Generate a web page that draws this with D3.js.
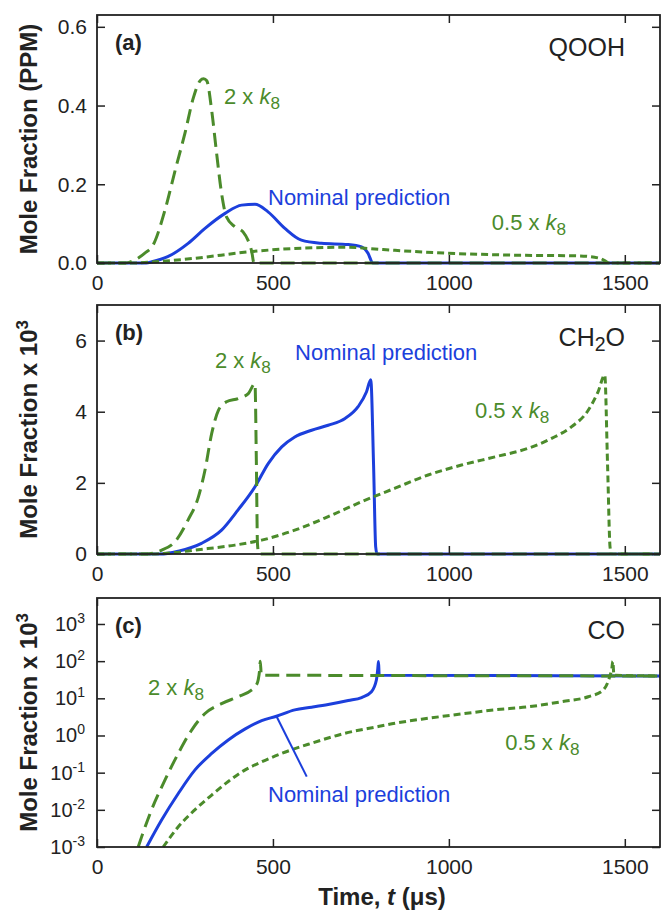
<!DOCTYPE html>
<html>
<head>
<meta charset="utf-8">
<script src="https://cdn.jsdelivr.net/npm/d3@7"></script>
<style>
body { margin: 0; background: #fff; }
text { font-family: "Liberation Sans", Arial, sans-serif; }
</style>
</head>
<body>
<svg id="chart"></svg>
<script>
//tick values
var timeTicks = [0, 500, 1000, 1500];
var qoohTicks = [0, 0.2, 0.4, 0.6];
var ch2oTicks = [0, 2, 4, 6];
var coTicks = [1e-3, 1e-2, 1e-1, 1, 10, 100, 1000];

//(a) QOOH mole fraction, PPM  [time us, value]
var qoohNominal = [[0,0],[140,0],[156,0.003],[201,0.016],[259,0.05],[307,0.088],[364,0.126],[411,0.147],
    [449,0.149],[486,0.13],[534,0.088],[581,0.058],[638,0.05],[713,0.047],[752,0.041],[770,0.025],[784,0],[1600,0]];
var qoohDouble = [[0,0],[80,0],[108,0.008],[136,0.025],[159,0.045],[193,0.134],[222,0.235],[250,0.33],[274,0.42],
    [293,0.463],[303,0.468],[312,0.463],[326,0.387],[340,0.278],[354,0.177],[368,0.117],[392,0.092],[415,0.079],
    [429,0.058],[440,0.028],[446,0],[1600,0]];
var qoohHalf = [[0,0],[100,0],[180,0.004],[278,0.012],[439,0.029],[562,0.037],[705,0.040],[813,0.034],[993,0.025],
    [1182,0.02],[1372,0.018],[1429,0.012],[1448,0.003],[1455,0],[1600,0]];

//(b) CH2O mole fraction x 10^3
var ch2oNominal = [[0,0],[180,0],[231,0.08],[297,0.3],[354,0.67],[401,1.24],[449,1.89],[487,2.55],[525,3.01],
    [562,3.29],[610,3.48],[657,3.62],[705,3.81],[742,4.14],[766,4.56],[778,4.9],[786,2.5],[792,0.2],[796,0],[1600,0]];
var ch2oDouble = [[0,0],[140,0],[184,0.11],[222,0.35],[259,0.96],[288,1.6],[307,2.36],[326,3.39],[345,4.04],
    [368,4.28],[401,4.37],[430,4.51],[449,4.79],[453,2.5],[456,0.3],[460,0],[1600,0]];
var ch2oHalf = [[0,0],[150,0],[220,0.04],[278,0.11],[392,0.25],[468,0.39],[562,0.67],[657,1.05],[752,1.47],
    [847,1.85],[941,2.22],[1036,2.5],[1131,2.73],[1225,2.97],[1292,3.25],[1349,3.58],[1396,4.04],[1424,4.56],
    [1443,5.03],[1451,2.5],[1458,0.2],[1462,0],[1600,0]];

//(c) CO mole fraction x 10^3 (log)
var coNominal = [[141,1e-3],[184,5.4e-3],[231,2.75e-2],[278,0.117],[326,0.33],[373,0.76],[420,1.48],[468,2.5],
    [510,3.3],[562,4.9],[610,5.75],[657,6.8],[714,8.7],[752,10.5],[780,15],[794,31],[798,63],[800,98],[802,42],[1600,40]];
var coDouble = [[117,1e-3],[127,1.9e-3],[155,1e-2],[193,6.3e-2],[231,0.33],[269,1.4],[307,3.9],[354,7.2],[401,11],
    [439,16.6],[452,22],[458,31],[462,56],[464,100],[467,42],[1600,40]];
var coHalf = [[188,1e-3],[231,3.5e-3],[278,1e-2],[326,2.5e-2],[373,5.8e-2],[420,0.117],[468,0.195],[525,0.33],
    [610,0.62],[705,1.15],[799,1.74],[847,2.14],[941,2.9],[1036,3.8],[1131,4.9],[1225,5.9],[1320,8.1],[1396,11],
    [1438,16.6],[1457,38],[1463,63],[1466,98],[1469,42],[1600,40]];

var green = '#4b8b2b', blue = '#1c3fdc', ink = '#222';

var svg = d3.select('#chart')
    .attr('width', 664)
    .attr('height', 912);

var x = d3.scaleLinear().domain([0, 1600]).range([97, 660]);

//label made of text pieces (italic / subscript / superscript)
function richText(sel, parts, size) {
    parts.forEach(function(p) {
        var ts = sel.append('tspan').text(p.t);
        if (p.italic) ts.attr('font-style', 'italic');
        if (p.sub) ts.attr('font-size', size * 0.78 + 'px').attr('dy', 5);
        if (p.sup) ts.attr('font-size', size * 0.7 + 'px').attr('dy', -9);
        if (p.back) ts.attr('dy', -5);
    });
    return sel;
}

function k8(prefix) {
    return [{t: prefix}, {t: 'k', italic: true}, {t: '8', sub: true}];
}

function drawPanel(p) {
    var y = (p.log ? d3.scaleLog() : d3.scaleLinear())
        .domain(p.domain)
        .range([p.bottom, p.top]);

    var g = svg.append('g').attr('class', 'panel-' + p.id);

    var line = d3.line()
        .x(d => x(d[0]))
        .y(d => y(d[1]))
        .curve(d3.curveMonotoneX);

    //curves: nominal first, green dashes over it
    g.append('path').datum(p.nominal)
        .attr('fill', 'none').attr('stroke', blue).attr('stroke-width', 3).attr('d', line);
    g.append('path').datum(p.dbl)
        .attr('fill', 'none').attr('stroke', green).attr('stroke-width', 3)
        .attr('stroke-dasharray', '14,7').attr('d', line);
    g.append('path').datum(p.half)
        .attr('fill', 'none').attr('stroke', green).attr('stroke-width', 3)
        .attr('stroke-dasharray', '7,4').attr('d', line);

    //pointer line for the nominal label
    if (p.pointer) {
        g.append('line')
            .attr('x1', x(p.pointer[0][0])).attr('y1', y(p.pointer[0][1]))
            .attr('x2', x(p.pointer[1][0])).attr('y2', y(p.pointer[1][1]))
            .attr('stroke', blue).attr('stroke-width', 2);
    }

    //axes with inward ticks
    var bottom = g.append('g').attr('transform', 'translate(0,' + p.bottom + ')')
        .call(d3.axisBottom(x).tickValues(timeTicks).tickSize(-8).tickPadding(12).tickFormat(d3.format('d')));
    var top = g.append('g').attr('transform', 'translate(0,' + p.top + ')')
        .call(d3.axisTop(x).tickValues(timeTicks).tickSize(-8).tickFormat(''));
    var left = g.append('g').attr('transform', 'translate(' + x.range()[0] + ',0)')
        .call(d3.axisLeft(y).tickValues(p.ticks).tickSize(-8).tickPadding(p.log ? 12 : 10)
            .tickFormat(p.log ? '' : p.format));
    var right = g.append('g').attr('transform', 'translate(' + x.range()[1] + ',0)')
        .call(d3.axisRight(y).tickValues(p.ticks).tickSize(-8).tickFormat(''));

    [bottom, top, left, right].forEach(function(a) {
        a.select('.domain').remove();
        a.selectAll('.tick line').attr('stroke', ink).attr('stroke-width', 1.5);
        a.selectAll('.tick text').attr('font-size', '21px').attr('fill', ink)
            .style('font-family', '"Liberation Sans", Arial, sans-serif');
    });

    if (p.log) {
        left.selectAll('.tick text').each(function(d) {
            var t = d3.select(this).text(null).attr('font-size', '20px');
            t.append('tspan').text('10');
            t.append('tspan').attr('dy', -8).attr('font-size', '14px').text(Math.round(Math.log10(d)));
        });
    }

    //frame
    g.append('rect')
        .attr('x', x.range()[0]).attr('y', p.top)
        .attr('width', x.range()[1] - x.range()[0]).attr('height', p.bottom - p.top)
        .attr('fill', 'none').attr('stroke', ink).attr('stroke-width', 1.8);

    //panel letter and species
    g.append('text').attr('x', x.range()[0] + 18).attr('y', p.top + 35)
        .attr('font-size', '22px').attr('font-weight', 'bold').attr('fill', ink).text('(' + p.id + ')');
    richText(g.append('text').attr('x', x.range()[1] - 35).attr('y', p.top + 41)
        .attr('text-anchor', 'end').attr('font-size', '25px').attr('fill', ink), p.species, 25);

    //curve annotations
    p.labels.forEach(function(l) {
        richText(g.append('text').attr('x', x(l.at[0])).attr('y', y(l.at[1]))
            .attr('font-size', '22px').attr('fill', l.color), l.parts, 22);
    });

    //y title
    richText(g.append('text')
        .attr('transform', 'translate(37,' + (p.top + p.bottom) / 2 + ') rotate(-90)')
        .attr('text-anchor', 'middle').attr('font-size', '24px').attr('font-weight', 'bold').attr('fill', ink),
        p.title, 24);
}

var moleX103 = [{t: 'Mole Fraction x 10'}, {t: '3', sup: true}];

drawPanel({
    id: 'a', top: 15, bottom: 263, domain: [0, 0.63], ticks: qoohTicks, format: d3.format('.1f'),
    nominal: qoohNominal, dbl: qoohDouble, half: qoohHalf,
    species: [{t: 'QOOH'}],
    title: [{t: 'Mole Fraction (PPM)'}],
    labels: [
        {at: [361, 0.404], color: green, parts: k8('2 x ')},
        {at: [486, 0.147], color: blue, parts: [{t: 'Nominal prediction'}]},
        {at: [1122, 0.084], color: green, parts: k8('0.5 x ')}
    ]
});

drawPanel({
    id: 'b', top: 305, bottom: 554, domain: [0, 7], ticks: ch2oTicks, format: d3.format('d'),
    nominal: ch2oNominal, dbl: ch2oDouble, half: ch2oHalf,
    species: [{t: 'CH'}, {t: '2', sub: true}, {t: 'O', back: true}],
    title: moleX103,
    labels: [
        {at: [335, 5.23], color: green, parts: k8('2 x ')},
        {at: [563, 5.45], color: blue, parts: [{t: 'Nominal prediction'}]},
        {at: [1074, 3.82], color: green, parts: k8('0.5 x ')}
    ]
});

drawPanel({
    id: 'c', top: 598, bottom: 847, domain: [1e-3, 5000], ticks: coTicks, log: true,
    nominal: coNominal, dbl: coDouble, half: coHalf,
    species: [{t: 'CO'}],
    title: moleX103,
    pointer: [[510, 3.3], [596, 0.078]],
    labels: [
        {at: [145, 12.3], color: green, parts: k8('2 x ')},
        {at: [486, 0.0166], color: blue, parts: [{t: 'Nominal prediction'}]},
        {at: [1160, 0.41], color: green, parts: k8('0.5 x ')}
    ]
});

//x title
svg.append('text')
    .attr('x', 382).attr('y', 905)
    .attr('text-anchor', 'middle').attr('font-size', '24px').attr('font-weight', 'bold').attr('fill', ink)
    .call(function(t) {
        t.append('tspan').text('Time, ');
        t.append('tspan').attr('font-style', 'italic').text('t');
        t.append('tspan').text(' (\u03bcs)');
    });
</script>
</body>
</html>
